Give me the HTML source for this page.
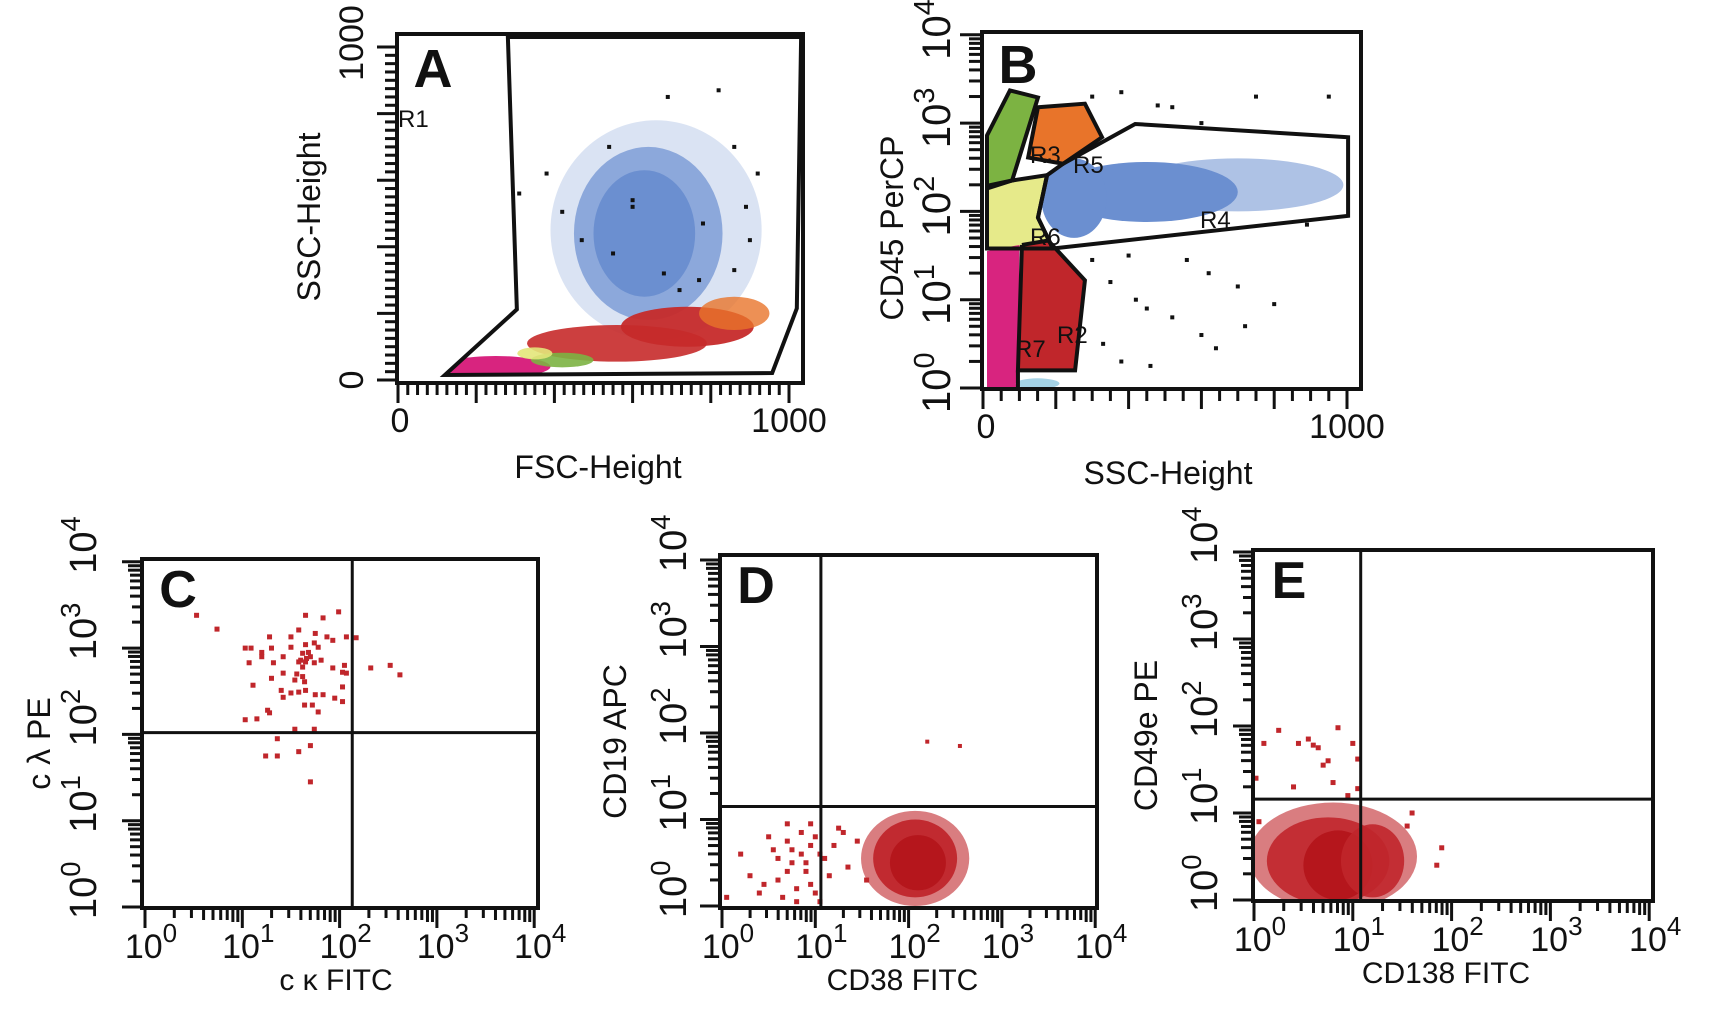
<!DOCTYPE html>
<html><head><meta charset="utf-8"><title>Flow cytometry panels</title>
<style>
html,body{margin:0;padding:0;background:#fff;}
svg{display:block;font-family:"Liberation Sans",Arial,sans-serif;}
</style></head>
<body>
<svg id="fig" width="1713" height="1011" viewBox="0 0 1713 1011" xmlns="http://www.w3.org/2000/svg"></svg>
<script>
// ===== DATA =====
// Panel A (FSC vs SSC, linear 0-1000)
const aBlobs = [ // [fsc, ssc, rFsc, rSsc, color, opacity]
  [660, 450, 270, 330, '#6b8fd0', 0.25],
  [640, 440, 190, 260, '#6b8fd0', 0.7],
  [630, 440, 130, 190, '#6b8fd0', 1],
  [560, 110, 230, 55, '#c62a2a', 0.9],
  [740, 160, 170, 60, '#c62a2a', 0.95],
  [860, 200, 90, 50, '#e8742a', 0.8],
  [250, 40, 140, 32, '#d8247f', 1],
  [420, 60, 80, 22, '#7cb342', 0.9],
  [350, 80, 45, 18, '#e3e67a', 0.9]
];
const aEvents = [[230,720],[250,680],[380,620],[310,560],[250,540],[420,505],[470,420],[280,330],[290,360],[540,700],[600,540],[690,850],[820,870],[860,700],[720,270],[770,300],[680,320],[780,470],[890,520],[900,420],[920,620],[860,330],[600,520],[550,380]];
const aGate = [[281,1030],[304,212],[120,15],[957,21],[1020,215],[1031,1030]];
// Panel B (SSC linear vs CD45 log decades)
const bBlobs = [ // [ssc, logCD45, rSsc, rDec, color, opacity]
  [700, 2.3, 290, 0.3, '#6b8fd0', 0.55],
  [450, 2.22, 250, 0.34, '#6b8fd0', 1],
  [250, 2.15, 90, 0.45, '#6b8fd0', 1],
  [150, 0.05, 60, 0.06, '#8ec8e0', 0.8]
];
const bFills = [ // [gate index, color]
  [0, '#7cb342'], [1, '#e8742a'], [3, '#e6ea8a'], [4, '#c0262b'], [6, '#d8247f']
];
const bEvents = [[300,3.3],[380,3.35],[480,3.2],[520,3.18],[600,3.0],[750,3.3],[560,1.45],[620,1.3],[700,1.15],[350,1.2],[420,1.0],[450,0.9],[520,0.8],[600,0.6],[720,0.7],[800,0.95],[330,0.5],[380,0.3],[460,0.25],[890,1.85],[950,3.3],[300,1.45],[400,1.5],[640,0.45]];
const gateGreen = [[11,2.86],[74,3.37],[151,3.29],[80,2.35],[11,2.29]];
const gateOrange = [[151,3.18],[280,3.22],[327,2.84],[220,2.54],[124,2.61]];
const gateR4 = [[220,2.54],[418,2.99],[1003,2.84],[1003,1.95],[192,1.58],[151,1.93],[176,2.41]];
const gateR6 = [[11,2.26],[80,2.35],[176,2.41],[151,1.93],[192,1.58],[11,1.58]];
const gateR2 = [[107,1.62],[179,1.67],[280,1.22],[253,0.2],[96,0.2],[107,1.62]];
const gateR7 = [[96,0.2],[96,0.0]];
const regionR7 = [[11,1.55],[100,1.62],[96,0.0],[11,0.0]];
// Panel C (log-log, decades)
const cX = [0.53,0.74,1.65,1.99,1.83,1.58,1.75,1.87,1.93,2.07,2.17,1.03,1.09,1.28,1.30,1.20,1.50,1.65,1.74,1.78,1.62,1.70,1.58,1.65,1.74,1.81,1.32,1.42,1.50,1.07,1.20,2.05,2.07,1.93,2.03,2.32,2.52,2.62,1.30,1.42,1.62,1.64,1.54,1.11,1.40,1.50,1.58,1.42,1.65,1.75,1.83,2.03,2.03,1.95,1.72,1.64,1.78,1.26,1.28,1.03,1.15,1.54,1.74,1.36,1.24,1.36,1.58,1.70,1.70,1.60,1.62,1.68,1.56,1.66];
const cY = [3.38,3.22,3.38,3.42,3.35,3.21,3.17,3.13,3.09,3.13,3.12,3.00,3.00,3.13,3.00,2.95,3.13,3.04,3.06,3.01,2.94,2.90,2.84,2.84,2.83,2.86,2.83,2.90,3.01,2.83,2.90,2.80,2.71,2.77,2.72,2.77,2.80,2.69,2.65,2.71,2.67,2.61,2.63,2.57,2.51,2.48,2.49,2.43,2.51,2.46,2.46,2.55,2.38,2.42,2.34,2.34,2.26,2.28,2.25,2.17,2.18,2.06,2.06,1.95,1.75,1.75,1.80,1.87,1.45,2.86,2.78,2.95,2.70,2.88];
const cQuad = [2.13, 2.02];
// Panel D
const dBlobs = [[2.07,0.55,0.58,0.55,'#c0262b',0.6],[2.07,0.55,0.45,0.45,'#c0262b',0.95],[2.1,0.5,0.3,0.32,'#b5161c',1]];
const dX = [0.2,0.7,0.5,0.85,0.95,1.05,0.75,0.6,0.9,0.8,1.0,1.1,0.55,0.45,0.7,1.2,1.3,1.35,0.95,0.65,0.85,1.15,0.3,0.05,0.8,0.9,1.0,0.6,0.75,1.45,1.55,0.4,0.7,0.95,1.25,1.05];
const dY = [0.6,0.95,0.8,0.85,0.7,0.6,0.5,0.3,0.4,0.2,0.15,0.55,0.65,0.25,0.75,0.7,0.85,0.45,0.95,0.1,0.6,0.35,0.35,0.1,0.05,0.5,0.8,0.55,0.65,0.75,0.3,0.15,0.4,0.25,0.9,0.05];
const dOut = [[2.2,1.9],[2.55,1.85]];
const dQuad = [1.06, 1.15];
// Panel E
const eBlobs = [[0.8,0.5,0.85,0.62,'#c0262b',0.6],[0.75,0.45,0.62,0.5,'#c0262b',0.9],[0.85,0.4,0.35,0.4,'#b5161c',1],[1.2,0.45,0.32,0.42,'#c0262b',0.9]];
const eX = [0.25,0.55,0.85,0.6,1.0,0.95,1.05,0.7,0.75,0.4,0.1,0.02,0.45,0.8,1.05,0.65,1.9,1.85,1.6,1.55,0.05];
const eY = [1.95,1.85,1.98,1.78,1.8,1.2,1.62,1.55,1.6,1.3,1.8,1.4,1.8,1.35,1.28,1.75,0.6,0.4,1.0,0.85,0.9];
const eQuad = [1.08, 1.16];

// ===== HELPERS =====
const NS='http://www.w3.org/2000/svg';
const svg=document.getElementById('fig');
function mk(tag,attrs,parent){const e=document.createElementNS(NS,tag);for(const k in attrs)e.setAttribute(k,attrs[k]);(parent||svg).appendChild(e);return e;}
function grp(name){const g=mk('g',{});


return g;}
function hText(g,x,y,s,size,anchor,name,weight){const t=mk('text',{x:x,y:y,'font-size':size,'text-anchor':anchor||'middle','font-weight':weight||'normal',fill:'#111'},g);t.textContent=s;


return t;}
function vText(g,x,y,s,size,anchor,name){const t=mk('text',{transform:'translate('+x+','+y+') rotate(-90)','font-size':size,'text-anchor':anchor||'middle',fill:'#111'},g);t.textContent=s;


return t;}
function powH(g,x,y,e,name){const t=mk('text',{x:x,y:y,'font-size':34,'text-anchor':'middle',fill:'#111'},g);


const a=mk('tspan',{},t);a.textContent='10';const b=mk('tspan',{dy:-16,'font-size':26},t);b.textContent=String(e);}
function powV(g,x,y,e,name,fs){const t=mk('text',{transform:'translate('+x+','+y+') rotate(-90)','font-size':fs||36,'text-anchor':'start',fill:'#111'},g);


const a=mk('tspan',{},t);a.textContent='10';const b=mk('tspan',{dy:-16,'font-size':(fs||36)*0.72},t);b.textContent=String(e);}
function logMinor(){const r=[];for(let d=0;d<4;d++){for(let k=2;k<=9;k++)r.push(d+Math.log10(k));}return r;}

// ===== PANEL A =====
(function(){
  const g=grp('panel-a');
  const L=397,R=803,T=34,B=383;
  const sx=v=>398+v*0.391, sy=v=>380-v*0.333;
  const plot=grp('panel-a-plot');g.appendChild(plot);
  const cp=mk('clipPath',{id:'clipA'},g);mk('polygon',{points:aGate.map(p=>sx(p[0])+','+sy(p[1])).join(' ')},cp);
  plot.setAttribute('clip-path','url(#clipA)');
  aBlobs.forEach(b=>{const e=mk('ellipse',{cx:sx(b[0]),cy:sy(b[1]),rx:b[2]*0.391,ry:b[3]*0.333,fill:b[4],opacity:b[5]},plot);
    
    });
  aEvents.forEach(p=>{const r=mk('rect',{x:sx(p[0])-2,y:sy(p[1])-2,width:4,height:4,fill:'#111'},plot);
    
    });
  const gp=mk('polygon',{points:aGate.map(p=>sx(p[0])+','+sy(p[1])).join(' '),fill:'none',stroke:'#111','stroke-width':4,'stroke-linejoin':'miter'},g);
  
  
  const f=mk('rect',{x:L,y:T,width:R-L,height:B-T,fill:'none',stroke:'#111','stroke-width':4},g);
  
  
  for(let v=0;v<=1000;v+=25){const maj=v%200===0;
    mk('line',{x1:sx(v),x2:sx(v),y1:B,y2:B+(maj?20:12),stroke:'#111','stroke-width':3},g);
    mk('line',{x1:L,x2:L-(maj?20:12),y1:sy(v),y2:sy(v),stroke:'#111','stroke-width':3},g);}
  hText(g,sx(0)+2,432,'0',34,'middle','x-tick-0');
  hText(g,sx(1000),432,'1000',34,'middle','x-tick-1000');
  vText(g,363,sy(0),'0',34,'middle','y-tick-0');
  vText(g,363,sy(1000)-4,'1000',34,'middle','y-tick-1000');
  hText(g,598,478,'FSC-Height',32,'middle','x-axis-title');
  vText(g,320,217,'SSC-Height',32,'middle','y-axis-title');
  hText(g,433,87,'A',54,'middle','panel-label-a','bold');
  hText(g,398,127,'R1',24,'start','gate-label-r1');
})();

// ===== PANEL B =====
(function(){
  const g=grp('panel-b');
  const L=982,R=1361,T=32,B=389;
  const sx=v=>983+v*0.364, sy=d=>388-d*88.3;
  const plot=grp('panel-b-plot');g.appendChild(plot);
  const gateList=[gateGreen,gateOrange,gateR4,gateR6,gateR2,gateR7,regionR7];
  const cpR4=mk('clipPath',{id:'clipR4'},g);mk('polygon',{points:gateR4.map(p=>sx(p[0])+','+sy(p[1])).join(' ')},cpR4);
  const blue=grp('panel-b-blue');plot.appendChild(blue);blue.setAttribute('clip-path','url(#clipR4)');
  bFills.forEach(fl=>{const pts=gateList[fl[0]];const p=mk('polygon',{points:pts.map(q=>sx(q[0])+','+sy(q[1])).join(' '),fill:fl[1],stroke:'none'},plot);
    
    });
  bBlobs.forEach((b,i)=>{const e=mk('ellipse',{cx:sx(b[0]),cy:sy(b[1]),rx:b[2]*0.364,ry:b[3]*88.3,fill:b[4],opacity:b[5]},i<3?blue:plot);
    
    });
  bEvents.forEach(p=>{const r=mk('rect',{x:sx(p[0])-2,y:sy(p[1])-2,width:4,height:4,fill:'#111'},plot);
    
    });
  const gates=[['gate-r3-green',gateGreen,true],['gate-r3-orange',gateOrange,true],['gate-r4',gateR4,true],['gate-r6',gateR6,true],['gate-r2',gateR2,false],['gate-r7',gateR7,false]];
  gates.forEach(q=>{const el=mk(q[2]?'polygon':'polyline',{points:q[1].map(p=>sx(p[0])+','+sy(p[1])).join(' '),fill:'none',stroke:'#111','stroke-width':4},g);
    
    });
  const f=mk('rect',{x:L,y:T,width:R-L,height:B-T,fill:'none',stroke:'#111','stroke-width':4},g);
  
  
  for(let v=0;v<=1000;v+=50){const maj=v%200===0;
    mk('line',{x1:sx(v),x2:sx(v),y1:B,y2:B+(maj?20:12),stroke:'#111','stroke-width':3},g);}
  for(let d=0;d<=4;d++)mk('line',{x1:L,x2:L-22,y1:sy(d),y2:sy(d),stroke:'#111','stroke-width':3},g);
  logMinor().forEach(d=>mk('line',{x1:L,x2:L-13,y1:sy(d),y2:sy(d),stroke:'#111','stroke-width':3},g));
  for(let d=0;d<=4;d++)powV(g,950,sy(d)+25,d,'y-tick-1e'+d,40);
  hText(g,sx(0)+3,438,'0',34,'middle','x-tick-0');
  hText(g,sx(1000),438,'1000',34,'middle','x-tick-1000');
  hText(g,1168,484,'SSC-Height',32,'middle','x-axis-title');
  vText(g,903,228,'CD45 PerCP',32,'middle','y-axis-title');
  hText(g,1018,83,'B',54,'middle','panel-label-b','bold');
  [['R3',1030,163],['R5',1073,173],['R4',1200,228],['R6',1030,245],['R7',1015,357],['R2',1057,343]].forEach(l=>hText(g,l[1],l[2],l[0],24,'start','gate-label-'+l[0].toLowerCase()));
})();

// ===== LOG PANELS =====
function logPanel(o){
  const g=grp(o.name);
  const sx=d=>o.x0+d*o.xd, sy=d=>o.y0-d*o.yd;
  const plot=grp(o.name+'-plot');g.appendChild(plot);
  (o.blobs||[]).forEach(b=>{const e=mk('ellipse',{cx:sx(b[0]),cy:sy(b[1]),rx:b[2]*o.xd,ry:b[3]*o.yd,fill:b[4],opacity:b[5]},plot);
    
    });
  o.px.forEach((x,i)=>{const r=mk('rect',{x:sx(x)-2.5,y:sy(o.py[i])-2.5,width:5,height:5,fill:'#c0262b'},plot);
    
    });
  (o.extra||[]).forEach(p=>{const r=mk('rect',{x:sx(p[0])-2,y:sy(p[1])-2,width:4,height:4,fill:'#c0262b'},plot);
    
    });
  const cid=o.name+'-clip';const cp=mk('clipPath',{id:cid},g);mk('rect',{x:o.L,y:o.T,width:o.R-o.L,height:o.B-o.T},cp);plot.setAttribute('clip-path','url(#'+cid+')');
  const f=mk('rect',{x:o.L,y:o.T,width:o.R-o.L,height:o.B-o.T,fill:'none',stroke:'#111','stroke-width':4},g);
  
  
  const vq=mk('line',{x1:sx(o.quad[0]),x2:sx(o.quad[0]),y1:o.T,y2:o.B,stroke:'#111','stroke-width':3},g);
  
  
  const hq=mk('line',{x1:o.L,x2:o.R,y1:sy(o.quad[1]),y2:sy(o.quad[1]),stroke:'#111','stroke-width':3},g);
  
  
  for(let d=0;d<=4;d++){mk('line',{x1:sx(d),x2:sx(d),y1:o.B,y2:o.B+20,stroke:'#111','stroke-width':3},g);
    mk('line',{x1:o.L,x2:o.L-20,y1:sy(d),y2:sy(d),stroke:'#111','stroke-width':3},g);}
  logMinor().forEach(d=>{const k=(d%1);const len=k>0.9?14:(k>0.6?12:10);
    mk('line',{x1:sx(d),x2:sx(d),y1:o.B,y2:o.B+len,stroke:'#111','stroke-width':3},g);
    mk('line',{x1:o.L,x2:o.L-len,y1:sy(d),y2:sy(d),stroke:'#111','stroke-width':3},g);});
  for(let d=0;d<=4;d++){powH(g,sx(d)+6,o.B+50,d,'x-tick-1e'+d);powV(g,o.L-o.lblOff,sy(d)+12,d,'y-tick-1e'+d,38);}
  hText(g,(o.L+o.R)/2-o.xtShift,o.B+82,o.xt,30,'middle','x-axis-title');
  vText(g,o.ytX,(o.T+o.B)/2+10,o.yt,32,'middle','y-axis-title');
  hText(g,o.L+36,o.T+48,o.label,52,'middle','panel-label-'+o.label.toLowerCase(),'bold');
}
logPanel({name:'panel-c',L:142,R:538,T:559,B:908,x0:145,xd:97.3,y0:907,yd:86.3,px:cX,py:cY,quad:cQuad,lblOff:46,xt:'c \u03BA FITC',xtShift:4,yt:'c \u03BB PE',ytX:50,label:'C'});
logPanel({name:'panel-d',L:720,R:1097,T:555,B:908,x0:722,xd:93.3,y0:906,yd:86.5,blobs:dBlobs,px:dX,py:dY,extra:dOut,quad:dQuad,lblOff:34,xt:'CD38 FITC',xtShift:6,yt:'CD19 APC',ytX:626,label:'D'});
logPanel({name:'panel-e',L:1253,R:1653,T:550,B:901,x0:1254,xd:98.8,y0:900,yd:87,blobs:eBlobs,px:eX,py:eY,quad:eQuad,lblOff:36,xt:'CD138 FITC',xtShift:7,yt:'CD49e PE',ytX:1157,label:'E'});
</script>
</body></html>
